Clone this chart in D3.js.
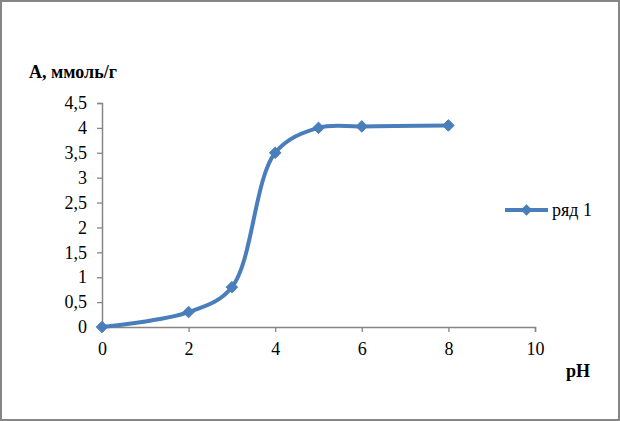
<!DOCTYPE html>
<html>
<head>
<meta charset="utf-8">
<script src="https://cdn.jsdelivr.net/npm/d3@7"></script>
<style>
  body { margin: 0; background: #fff; }
  svg { display: block; }
</style>
</head>
<body>
<svg id="chart" width="620" height="421"></svg>
<script>
// data
var phValues = [0, 2, 3, 4, 5, 6, 8];
var adsorption = [0, 0.3, 0.8, 3.5, 4.0, 4.03, 4.05];
var xTicks = [0, 2, 4, 6, 8, 10];
var yTicks = [0, 0.5, 1, 1.5, 2, 2.5, 3, 3.5, 4, 4.5];
var seriesName = "ряд 1";
var yTitle = "А, ммоль/г";
var xTitle = "pH";

var svg = d3.select("#chart"),
  width = +svg.attr("width"),
  height = +svg.attr("height");

var blue = "#4a7ebb",
  axisGrey = "#868686",
  font = "'Liberation Serif', 'Times New Roman', serif";

// outer frame
svg.append("rect")
  .attr("x", 1).attr("y", 1)
  .attr("width", width - 2).attr("height", height - 2)
  .attr("fill", "#fff")
  .attr("stroke", axisGrey)
  .attr("stroke-width", 2);

var x = d3.scaleLinear().domain([0, 10]).range([102, 535]);
var y = d3.scaleLinear().domain([0, 4.5]).range([327, 103]);

var fmt = function (d) { return String(d).replace(".", ","); };

// y axis
var yAxis = svg.append("g")
  .attr("transform", "translate(" + x(0) + ",0)")
  .call(d3.axisLeft(y).tickValues(yTicks).tickFormat(fmt).tickSize(5).tickPadding(10));
// x axis
var xAxis = svg.append("g")
  .attr("transform", "translate(0," + y(0) + ")")
  .call(d3.axisBottom(x).tickValues(xTicks).tickFormat(fmt).tickSize(5).tickPadding(10));

[yAxis, xAxis].forEach(function (g) {
  g.select(".domain").attr("stroke", axisGrey).attr("stroke-width", 1.5);
  g.selectAll(".tick line").attr("stroke", axisGrey).attr("stroke-width", 1.3);
  g.selectAll("text")
    .attr("fill", "#000")
    .style("font-family", font)
    .style("font-size", "18px");
});

// axis titles
svg.append("text")
  .attr("x", 29).attr("y", 78)
  .style("font-family", font)
  .style("font-size", "18px")
  .style("font-weight", "bold")
  .text(yTitle);

svg.append("text")
  .attr("x", 566).attr("y", 377)
  .style("font-family", font)
  .style("font-size", "18px")
  .style("font-weight", "bold")
  .text(xTitle);

// smoothed line
var points = phValues.map(function (p, i) { return [p, adsorption[i]]; });
var line = d3.line()
  .x(function (d) { return x(d[0]); })
  .y(function (d) { return y(d[1]); })
  .curve(d3.curveCatmullRom.alpha(0.5));

svg.append("path")
  .datum(points)
  .attr("d", line)
  .attr("fill", "none")
  .attr("stroke", blue)
  .attr("stroke-width", 4)
  .attr("stroke-linejoin", "round");

var diamond = d3.symbol().type(d3.symbolDiamond2).size(85);

svg.append("g")
  .selectAll("path")
  .data(points)
  .join("path")
  .attr("transform", function (d) {
    return "translate(" + x(d[0]) + "," + y(d[1]) + ")";
  })
  .attr("d", diamond)
  .attr("fill", blue)
  .attr("stroke", blue)
  .attr("stroke-width", 1);

// legend
var legend = svg.append("g").attr("transform", "translate(505,210)");
legend.append("line")
  .attr("x1", 0).attr("x2", 43)
  .attr("y1", 0).attr("y2", 0)
  .attr("stroke", blue)
  .attr("stroke-width", 4);
legend.append("path")
  .attr("transform", "translate(21.5,0)")
  .attr("d", diamond)
  .attr("fill", blue);
legend.append("text")
  .attr("x", 47).attr("y", 6)
  .style("font-family", font)
  .style("font-size", "18px")
  .text(seriesName);
</script>
</body>
</html>
